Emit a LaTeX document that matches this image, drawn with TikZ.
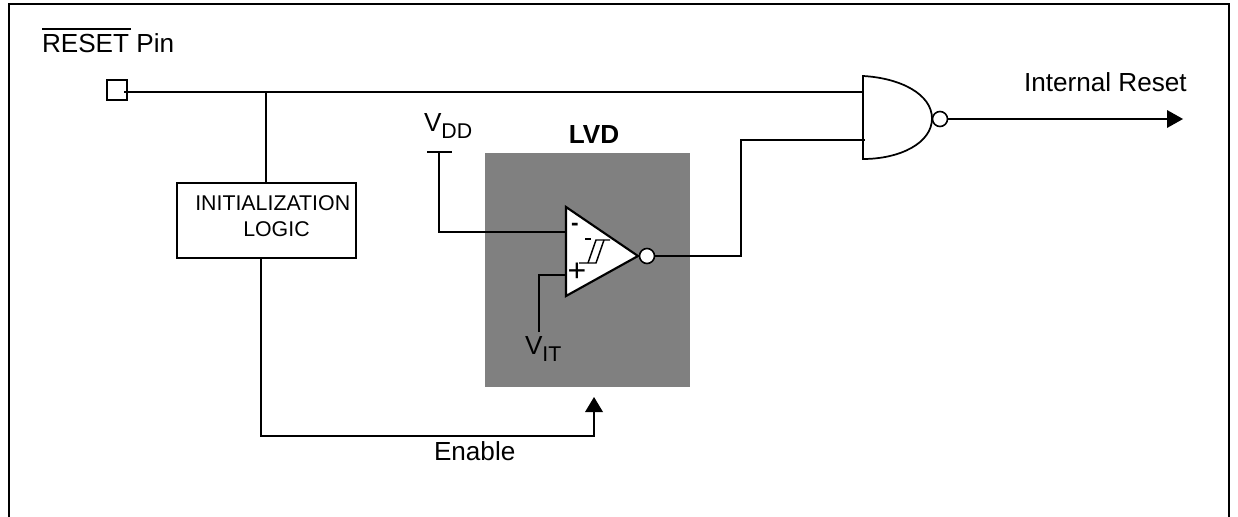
\documentclass[tikz,border=0pt]{standalone}
\usepackage{fontspec}
\setmainfont{Liberation Sans}
\usetikzlibrary{calc}
\newcommand{\bigtxt}{\fontsize{19.6}{23}\selectfont}
\newcommand{\smalltxt}{\fontsize{16}{24}\selectfont}
\newcommand{\subtxt}[1]{\raisebox{-5.5pt}{\smalltxt #1}}
\tikzset{
  x=0.75pt,y=-0.75pt,
  wire/.style={draw=black,line width=1.6pt},
  label text/.style={inner sep=0pt,outer sep=0pt,anchor=base west,font=\bigtxt},
  bubble/.style={circle,draw=black,fill=white,line width=1.2pt,minimum size=15*0.75pt,inner sep=0pt,outer sep=0pt},
  frameline/.style={draw=black,line width=2.2pt},
  pinbox/.style={rectangle,draw=black,fill=white,line width=1.6pt,minimum width=20*0.75pt,minimum height=20*0.75pt,inner sep=0pt,outer sep=0pt},
  logicbox/.style={rectangle,draw=black,fill=white,line width=1.2pt,minimum width=179*0.75pt,minimum height=75*0.75pt,inner sep=0pt,outer sep=0pt},
  lvdbox/.style={rectangle,fill=lvdgray,minimum width=205*0.75pt,minimum height=234*0.75pt,inner sep=0pt,outer sep=0pt},
  headtip/.style={fill=black,draw=none},
}
\definecolor{lvdgray}{RGB}{128,128,128}
\begin{document}
\begin{tikzpicture}
\useasboundingbox (0,0) rectangle (1238,517);
% frame
\draw[frameline] (9,517) -- (9,4) -- (1229,4) -- (1229,517);

% LVD block
\node[lvdbox] (lvd) at (587.5,270) {};
\node[label text,anchor=base,font=\bigtxt\bfseries] (lvdlabel) at (594,143) {LVD};

% comparator
\coordinate (cmptop) at (566,207);
\coordinate (cmpbot) at (566,296);
\coordinate (cmptip) at (638,256);
\filldraw[fill=white,draw=black,line width=1.6pt,line join=miter] (cmptop) -- (cmptip) -- (cmpbot) -- cycle;
\node[bubble] (cmpout) at (647,256) {};
\coordinate (cmpminus) at (566,232);
\coordinate (cmpplus) at (566,275);
\node[inner sep=0pt,font=\fontsize{17}{20}\selectfont\bfseries] (minussign) at (575,227) {-};
\node[inner sep=0pt,font=\fontsize{24}{26}\selectfont] (plussign) at (577,272) {+};
% hysteresis symbol
\draw[black,line width=1.1pt] (579,263) -- (596,263) -- (604,240);
\draw[black,line width=1.1pt] (588,263) -- (596,240) -- (610,240);
\draw[black,line width=1.1pt] (585,239) -- (591,239);

% VDD
\coordinate (vddl) at (427,152);
\coordinate (vddr) at (452,152);
\coordinate (vddm) at (439,152);
\draw[wire] (vddl) -- (vddr);
\node[label text] (vdd) at (424,131) {V\subtxt{DD}};
\draw[wire] (vddm) |- (cmpminus);

% VIT
\node[label text] (vit) at (525,354) {V\subtxt{IT}};
\coordinate (vittop) at (539,332);
\draw[wire] (vittop) |- (cmpplus);

% NAND gate
\coordinate (ntop) at (863,76);
\coordinate (nbot) at (863,159);
\coordinate (ntip) at (932,118.5);
\filldraw[fill=white,draw=black,line width=1.3pt]
  (ntop) .. controls (900,78) and (932,94) .. (ntip)
  .. controls (932,143) and (900,159) .. (nbot) -- cycle;
\node[bubble] (nout) at (940,119) {};
\coordinate (nin1) at (863,92);
\coordinate (nin2) at (865,140);

% reset pin
\node[label text] (resetlabel) at (42,52.5) {RESET Pin};
\coordinate (olA) at (42,29);
\coordinate (olB) at (131,29);
\draw[black,line width=0.9pt] (olA) -- (olB);
\node[pinbox] (pin) at (117,90) {};
\coordinate (pinin) at (124,92);
\coordinate (jct) at (266,92);
\draw[wire] (pinin) -- (nin1);

% initialization logic
\node[logicbox] (logic) at (266.5,220.5) {};
\node[inner sep=0pt,font=\smalltxt,anchor=base west] (logic1) at (195,210) {INITIALIZATION};
\node[inner sep=0pt,font=\smalltxt,anchor=base west] (logic2) at (243,236) {LOGIC};
\draw[wire] (jct) -- (logic.north -| jct);

% enable
\coordinate (logicout) at (261,258);
\coordinate (enablearrow) at (594,397);
\coordinate (enablebase) at (594,412);
\draw[wire] (logicout) -- (261,436) -| (enablebase);
\fill[headtip] (enablearrow) -- ($(enablebase)+(-9,0)$) -- ($(enablebase)+(9,0)$) -- cycle;
\node[label text] (enable) at (434,460) {Enable};

% comparator output to NAND
\draw[wire] (cmpout.east) -- (741,256) |- (nin2);

% output
\coordinate (outtip) at (1183,119);
\coordinate (outbase) at (1167,119);
\draw[wire] (nout.east) -- (outbase);
\fill[headtip] (outtip) -- ($(outbase)+(0,-9)$) -- ($(outbase)+(0,9)$) -- cycle;
\node[label text] (internal) at (1024,92) {Internal Reset};
\end{tikzpicture}
\end{document}
